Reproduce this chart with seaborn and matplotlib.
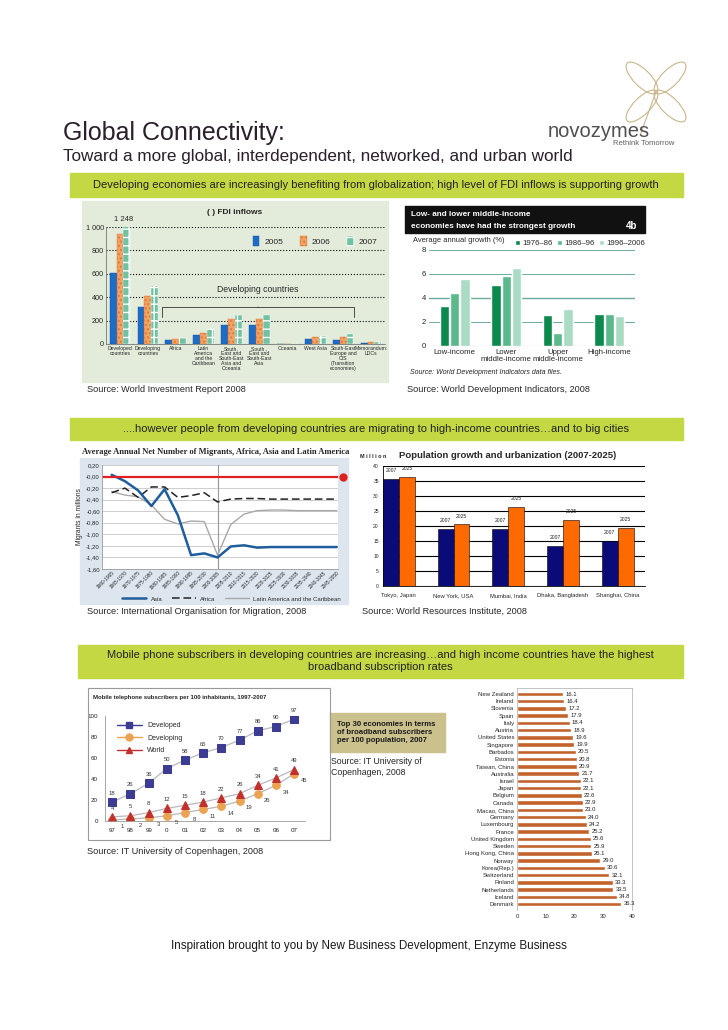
import numpy as np
import pandas as pd
import matplotlib
matplotlib.use('Agg')
import matplotlib.pyplot as plt
from matplotlib.patches import Rectangle, Ellipse, Patch
from matplotlib.lines import Line2D
import seaborn as sns

W, H = 728, 1030

# ---------------- data ----------------
fdi_regions = ['Developed\ncountries', 'Developing\ncountries', 'Africa',
               'Latin\nAmerica\nand the\nCaribbean',
               'South,\nEast and\nSouth-East\nAsia and\nOceania',
               'South ,\nEast and\nSouth-East\nAsia', 'Oceania', 'West Asia',
               'South-East\nEurope and\nCIS\n(Transition\neconomies)',
               'Memorandum:\nLDCs']
fdi_years = ['2005', '2006', '2007']
fdi_2005 = [611, 316, 30, 76, 166, 165, 1, 44, 31, 7]
fdi_2006 = [941, 413, 46, 93, 214, 210, 1, 64, 57, 13]
fdi_2007 = [1248, 500, 53, 126, 249, 249, 2, 71, 86, 13]

growth_groups = ['Low-income', 'Lower\nmiddle-income', 'Upper\nmiddle-income', 'High-income']
growth_periods = ['1976\u201386', '1986\u201396', '1996\u20132006']
growth_7686 = [3.3, 5.1, 2.6, 2.7]
growth_8696 = [4.4, 5.8, 1.1, 2.7]
growth_9606 = [5.6, 6.5, 3.1, 2.5]

mig_periods = ['1960-1965', '1965-1970', '1970-1975', '1975-1980', '1980-1985',
               '1985-1990', '1990-1995', '1995-2000', '2000-2005', '2005-2010',
               '2010-2015', '2015-2020', '2020-2025', '2025-2030', '2030-2035',
               '2035-2040', '2040-2045', '2045-2050']
mig_asia = [0.03, -0.08, -0.24, -0.51, -0.22, -0.67, -1.36, -1.33, -1.40, -1.21,
            -1.19, -1.23, -1.22, -1.22, -1.22, -1.22, -1.22, -1.22]
mig_africa = [-0.28, -0.20, -0.36, -0.18, -0.18, -0.36, -0.33, -0.28, -0.44, -0.39,
              -0.38, -0.38, -0.39, -0.39, -0.39, -0.39, -0.39, -0.39]
mig_latam = [-0.26, -0.32, -0.35, -0.49, -0.74, -0.82, -0.77, -0.78, -1.36, -0.83,
             -0.65, -0.59, -0.58, -0.58, -0.59, -0.59, -0.59, -0.59]

pop_cities = ['Tokyo, Japan', 'New York, USA', 'Mumbai, India', 'Dhaka, Bangladesh', 'Shanghai, China']
pop_2007 = [35.7, 19.0, 19.0, 13.5, 15.0]
pop_2025 = [36.4, 20.6, 26.4, 22.0, 19.4]

mob_years = ['97', '98', '99', '0', '01', '02', '03', '04', '05', '06', '07']
mob_developed = [18, 26, 36, 50, 58, 65, 70, 77, 86, 90, 97]
mob_developing = [1, 2, 3, 5, 8, 11, 14, 19, 26, 34, 45]
mob_world = [4, 5, 8, 12, 15, 18, 22, 26, 34, 41, 49]

bb_countries = ['New Zealand', 'Ireland', 'Slovenia', 'Spain', 'Italy', 'Austria',
                'United States', 'Singapore', 'Barbados', 'Estonia', 'Taiwan, China',
                'Australia', 'Israel', 'Japan', 'Belgium', 'Canada', 'Macao, China',
                'Germany', 'Luxembourg', 'France', 'United Kingdom', 'Sweden',
                'Hong Kong, China', 'Norway', 'Korea(Rep.)', 'Switzerland', 'Finland',
                'Netherlands', 'Iceland', 'Denmark']
bb_values = [16.1, 16.4, 17.2, 17.9, 18.4, 18.9, 19.6, 19.9, 20.5, 20.8, 20.9, 21.7,
             22.1, 22.1, 22.6, 22.9, 23.0, 24.0, 24.2, 25.2, 25.6, 25.9, 26.1, 29.0,
             30.6, 32.1, 33.3, 33.5, 34.8, 36.3]

# ---------------- helpers ----------------
def rect(x0, y0, x1, y1):
    """pixel box (top-left origin) -> figure fraction rect"""
    return [x0 / W, 1 - y1 / H, (x1 - x0) / W, (y1 - y0) / H]

def fx(x):
    return x / W

def fy(y):
    return 1 - y / H

def box(fig, x0, y0, x1, y1, zorder=-10, **kw):
    fig.add_artist(Rectangle((x0 / W, 1 - y1 / H), (x1 - x0) / W, (y1 - y0) / H,
                             transform=fig.transFigure, zorder=zorder, **kw))

sns.set_style('white')
plt.rcParams['font.family'] = ['Liberation Sans', 'DejaVu Sans']
plt.rcParams['axes.linewidth'] = 0.6

fig = plt.figure(figsize=(W / 100, H / 100), dpi=100)
LIME = '#c4d843'

# ---------------- header ----------------
fig.text(fx(63), fy(140), 'Global Connectivity:', fontsize=18, color='#2a1f2a', va='baseline')
fig.text(fx(63), fy(161), 'Toward a more global, interdependent, networked, and urban world',
         fontsize=12.3, color='#2a1f2a', va='baseline')
fig.text(fx(548), fy(137), 'novozymes', fontsize=14.5, color='#505050', va='baseline')
fig.text(fx(674), fy(145), 'Rethink Tomorrow', fontsize=5.5, color='#606060', ha='right', va='baseline')

# clover decoration
cax = fig.add_axes(rect(612, 48, 700, 136))
cax.set_xlim(-1, 1)
cax.set_ylim(-1, 1)
cax.set_aspect('equal')
cax.axis('off')
for ang in [45, 135, 225, 315]:
    t = np.deg2rad(ang)
    cax.add_patch(Ellipse((0.45 * np.cos(t), 0.45 * np.sin(t)), 0.95, 0.38, angle=ang,
                          fill=False, ec='#c9b68c', lw=0.8))
cax.plot([0, -0.35], [0, -0.95], color='#c9b68c', lw=0.8)

box(fig, 70, 173, 683, 197, color=LIME)
fig.text(fx(376), fy(185), 'Developing economies are increasingly benefiting from globalization; '
         'high level of FDI inflows is supporting growth', fontsize=8, ha='center', va='center',
         color='#222222')

# ---------------- FDI inflows ----------------
FDI_BG = '#e3ecdb'
box(fig, 82, 201, 388, 382, color=FDI_BG)
ax = fig.add_axes(rect(106, 227, 385, 344))
ax.set_facecolor(FDI_BG)
fdi_df = pd.DataFrame({'region': fdi_regions * 3,
                       'year': [y for y in fdi_years for _ in fdi_regions],
                       'value': fdi_2005 + fdi_2006 + fdi_2007})
fdi_cols = ['#1d6cc6', '#f2a266', '#6fc2a2']
sns.barplot(data=fdi_df, x='region', y='value', hue='year', palette=fdi_cols,
            width=0.74, saturation=1, ax=ax, legend=False)
hatches = [None, '....', '++']
edges = ['#1550a0', '#e07a30', '#ffffff']
for cont, h, ec in zip(ax.containers, hatches, edges):
    for p in cont:
        p.set_edgecolor(ec)
        p.set_linewidth(0.3)
        if h:
            p.set_hatch(h)
ax.set_ylim(0, 1000)
ax.set_yticks([0, 200, 400, 600, 800, 1000])
ax.set_yticklabels(['0', '200', '400', '600', '800', '1 000'])
ax.yaxis.grid(True, ls=':', color='black', lw=0.8)
ax.set_axisbelow(True)
ax.tick_params(axis='y', labelsize=5.2, pad=1.5, length=0)
ax.tick_params(axis='x', labelsize=3.7, pad=1.5, length=0)
for lab in ax.get_xticklabels():
    lab.set_linespacing(1.0)
ax.set_xlabel('')
ax.set_ylabel('')
for s in ['top', 'right']:
    ax.spines[s].set_visible(False)
ax.spines['left'].set_color('#777777')
ax.spines['bottom'].set_color('#777777')
top_bar = ax.containers[2][0]
ax.text(top_bar.get_x() + top_bar.get_width() / 2 - 0.1, 1035, '1 248', fontsize=5.5,
        ha='center', va='bottom', clip_on=False)
leg_h = [Patch(facecolor=c, edgecolor=e, hatch=h, lw=0.3) for c, e, h in zip(fdi_cols, edges, hatches)]
ax.legend(leg_h, fdi_years, loc='upper right', bbox_to_anchor=(1.0, 0.99), ncol=3, frameon=False,
          fontsize=6, handlelength=0.8, handleheight=1.5, handletextpad=0.6, columnspacing=2.0)
ax.text(0.545, 0.43, 'Developing countries', transform=ax.transAxes, fontsize=6.2,
        ha='center', va='bottom')
ax.annotate('', xy=(0.545, 0.29), xytext=(0.545, 0.34), xycoords='axes fraction',
            arrowprops=dict(arrowstyle='-[, widthB=8.6, lengthB=0.9', lw=0.6, color='#333333',
                            mutation_scale=8))
fig.text(fx(235), fy(213), '( ) FDI inflows', fontsize=6, fontweight='bold', ha='center', va='center')
fig.text(fx(87), fy(389), 'Source: World Investment Report 2008', fontsize=6.6, va='center')

# ---------------- growth ----------------
box(fig, 405, 206, 645, 233, color='#111111')
fig.text(fx(411), fy(214), 'Low- and lower middle-income', fontsize=5.9, fontweight='bold',
         color='white', va='center')
fig.text(fx(411), fy(226), 'economies have had the strongest growth', fontsize=5.9,
         fontweight='bold', color='white', va='center')
fig.text(fx(637), fy(226), '4b', fontsize=7, fontweight='bold', color='white', ha='right',
         va='center')
ax = fig.add_axes(rect(429, 250, 635, 346))
gdf = pd.DataFrame({'group': growth_groups * 3,
                    'period': [p for p in growth_periods for _ in growth_groups],
                    'value': growth_7686 + growth_8696 + growth_9606})
g_cols = ['#0c8a4d', '#5cb98c', '#aadcc3']
sns.barplot(data=gdf, x='group', y='value', hue='period', palette=g_cols, width=0.6,
            gap=0.08, saturation=1, ax=ax)
ax.set_ylim(0, 8)
ax.set_yticks([0, 2, 4, 6, 8])
ax.yaxis.grid(True, color='#6aaea0', lw=0.7)
ax.axhline(4, color='#1f6f62', lw=0.9, zorder=0.5)
ax.axhline(0, color='#888888', lw=0.8)
ax.set_axisbelow(True)
sns.despine(ax=ax, left=True, bottom=True)
ax.tick_params(labelsize=5.6, length=0, pad=2)
for lab in ax.get_xticklabels():
    lab.set_linespacing(1.0)
ax.set_xlabel('')
ax.set_ylabel('')
ax.legend(loc='lower right', bbox_to_anchor=(1.05, 1.03), ncol=3, frameon=False, fontsize=5.6,
          handlelength=0.7, handleheight=0.7, handletextpad=0.3, columnspacing=0.5,
          borderpad=0, borderaxespad=0)
fig.text(fx(413), fy(241), 'Average annual growth (%)', fontsize=5.4, va='center')
fig.text(fx(410), fy(373), 'Source: World Development Indicators data files.', fontsize=5,
         style='italic', va='center')
fig.text(fx(407), fy(389), 'Source: World Development Indicators, 2008', fontsize=6.6, va='center')

# ---------------- banner 2 ----------------
box(fig, 70, 418, 683, 440, color=LIME)
fig.text(fx(376), fy(429), '....however people from developing countries are migrating to '
         'high-income countries\u2026and to big cities', fontsize=8, ha='center', va='center',
         color='#222222')

# ---------------- migrants ----------------
box(fig, 80, 458, 348, 604, color='#dde6ef')
fig.text(fx(82), fy(452), 'Average Annual Net Number of Migrants, Africa, Asia and Latin America',
         fontsize=6.1, fontweight='bold', family=['Liberation Serif', 'DejaVu Serif'], va='center')
ax = fig.add_axes(rect(102, 465, 338, 569))
ax.set_facecolor('white')
xi = np.arange(len(mig_periods))
ax.axvline(mig_periods.index('2000-2005'), color='#999999', lw=0.8)
sns.lineplot(x=xi, y=mig_latam, color='#a8a8a8', lw=1.0, ax=ax, label='Latin America and the Caribbean')
sns.lineplot(x=xi, y=mig_africa, color='#222222', lw=1.1, ax=ax, label='Africa')
ax.lines[-1].set_dashes([5, 2.5])
sns.lineplot(x=xi, y=mig_asia, color='#1f5d9c', lw=1.8, ax=ax, label='Asia')
ax.axhline(0, color='#e02020', lw=1.6)
ax.plot([1.02], [0], 'o', color='#e02020', ms=5, transform=ax.get_yaxis_transform(), clip_on=False)
ax.set_xlim(-0.73, 17.1)
ax.set_ylim(-1.6, 0.2)
yt = np.round(np.arange(-1.6, 0.21, 0.2), 2)
ax.set_yticks(yt)
ax.set_yticklabels([f'{v:.2f}'.replace('.', ',') for v in yt])
ax.yaxis.grid(True, color='#bbbbbb', lw=0.5)
ax.set_xticks(xi)
ax.set_xticklabels(mig_periods, rotation=45, ha='right', rotation_mode='anchor')
ax.tick_params(axis='x', labelsize=3.4, length=0, pad=1)
ax.tick_params(axis='y', labelsize=4.3, length=0, pad=1.5)
ax.set_ylabel('Migrants in millions', fontsize=4.8, labelpad=2)
for s in ['top', 'right']:
    ax.spines[s].set_visible(False)
ax.spines['left'].set_color('#999999')
ax.spines['bottom'].set_color('#999999')
hs, ls = ax.get_legend_handles_labels()
order = [ls.index('Asia'), ls.index('Africa'), ls.index('Latin America and the Caribbean')]
ax.legend([hs[i] for i in order], [ls[i] for i in order], loc='upper center',
          bbox_to_anchor=(0.55, -0.24), ncol=3, frameon=False, fontsize=4.3, handlelength=4,
          columnspacing=1.5, borderaxespad=0)
fig.text(fx(87), fy(611), 'Source: International Organisation for Migration, 2008', fontsize=6.6,
         va='center')

# ---------------- population ----------------
ax = fig.add_axes(rect(383, 466, 645, 586))
pdf = pd.DataFrame({'city': pop_cities * 2,
                    'year': ['2007'] * len(pop_cities) + ['2025'] * len(pop_cities),
                    'value': pop_2007 + pop_2025})
sns.barplot(data=pdf, x='city', y='value', hue='year', palette=['#0a0a78', '#ff6a00'],
            width=0.58, saturation=1, edgecolor='black', linewidth=0.4, ax=ax, legend=False)
for cont, yr in zip(ax.containers, ['2007', '2025']):
    ax.bar_label(cont, labels=[yr] * len(cont), fontsize=3.6, padding=4, color='#222222')
ax.set_xlim(-0.29, 4.47)
ax.set_ylim(0, 40)
ax.set_yticks(range(0, 41, 5))
ax.yaxis.grid(True, color='black', lw=0.8)
ax.set_axisbelow(True)
ax.set_xticks(np.arange(len(pop_cities)) + 0.5, minor=True)
ax.tick_params(axis='x', which='minor', length=3, width=0.6, color='black')
ax.tick_params(axis='x', which='major', length=0, labelsize=4.2, pad=5)
ax.tick_params(axis='y', labelsize=3.6, length=2, width=0.5, pad=1)
ax.set_xlabel('')
ax.set_ylabel('')
for s in ['top', 'right']:
    ax.spines[s].set_visible(False)
ax.spines['left'].set_color('black')
ax.spines['bottom'].set_color('black')
fig.text(fx(508), fy(455), 'Population growth and urbanization (2007-2025)', fontsize=6.8,
         fontweight='bold', ha='center', va='center')
fig.text(fx(360), fy(456), 'M i l l i o n', fontsize=4, fontweight='bold', va='center')
fig.text(fx(362), fy(611), 'Source: World Resources Institute, 2008', fontsize=6.6, va='center')

# ---------------- banner 3 ----------------
box(fig, 78, 645, 683, 678, color=LIME)
fig.text(fx(380), fy(661.5), 'Mobile phone subscribers in developing countries are increasing\u2026'
         'and high income countries have the highest\nbroadband subscription rates', fontsize=8,
         ha='center', va='center', color='#222222', linespacing=1.25)

# ---------------- mobile ----------------
box(fig, 88, 688, 330, 840, zorder=5, fill=False, ec='#9a9a9a', lw=0.8)
ax = fig.add_axes(rect(105, 716, 305, 821))
mi = np.arange(len(mob_years))
series = [(mob_developed, 'Developed', 's', '#3c3c92', (0, 4.5)),
          (mob_developing, 'Developing', 'o', '#eba352', (7, -5)),
          (mob_world, 'World', '^', '#c3302c', (0, 4.5))]
for vals, name, mk, col, off in series:
    sns.lineplot(x=mi, y=vals, color='#b8b8c0', lw=0.9, marker=mk, markersize=5.5,
                 markerfacecolor=col, markeredgecolor=col, ax=ax)
    for xv, yv in zip(mi, vals):
        ax.annotate(str(yv), (xv, yv), textcoords='offset points', xytext=off, fontsize=4.2,
                    ha='center', va='bottom' if off[1] > 0 else 'center', color='#333333')
ax.set_xlim(-0.4, 10.6)
ax.set_ylim(0, 100)
ax.set_yticks(range(0, 101, 20))
ax.set_xticks(mi)
ax.set_xticklabels(mob_years)
ax.tick_params(labelsize=4.5, length=2, width=0.5, pad=3)
for s in ['top', 'right']:
    ax.spines[s].set_visible(False)
ax.spines['left'].set_color('#999999')
ax.spines['bottom'].set_color('#999999')
mob_h = [Line2D([], [], color=col, marker=mk, ms=5, lw=1.0) for _, _, mk, col, _ in series]
ax.legend(mob_h, [s[1] for s in series], loc='upper left', bbox_to_anchor=(0.03, 1.0),
          frameon=False, fontsize=5, handlelength=3.5, labelspacing=0.8)
fig.text(fx(93), fy(698), 'Mobile telephone subscribers per 100 inhabitants, 1997-2007',
         fontsize=4.3, fontweight='bold', va='center')
fig.text(fx(87), fy(851), 'Source: IT University of Copenhagen, 2008', fontsize=6.6, va='center')

# ---------------- broadband ----------------
box(fig, 330, 713, 445, 752, color='#cac18d')
fig.text(fx(337), fy(732.5), 'Top 30 economies in terms\nof broadband subscribers\nper 100 population, 2007',
         fontsize=5.6, fontweight='bold', va='center', linespacing=1.25, color='#1a1a1a')
fig.text(fx(331), fy(767), 'Source: IT University of\nCopenhagen, 2008', fontsize=6.3,
         va='center', linespacing=1.25)
ax = fig.add_axes(rect(517, 688, 632, 910))
sns.barplot(x=bb_values, y=bb_countries, orient='h', color='#c2632b', width=0.62,
            saturation=1, ax=ax)
ax.bar_label(ax.containers[0], fmt='%.1f', fontsize=4.2, padding=1.5, color='#222222')
ax.set_xlim(0, 40)
ax.set_ylim(29.83, -0.83)
ax.set_xticks(range(0, 41, 10))
ax.tick_params(axis='y', labelsize=4.3, length=0, pad=2)
ax.tick_params(axis='x', labelsize=4.3, length=0, pad=3)
ax.spines['bottom'].set_visible(False)
for s in ['top', 'right', 'left']:
    ax.spines[s].set_color('#aaaaaa')
    ax.spines[s].set_linewidth(0.5)

# ---------------- footer ----------------
fig.text(fx(369), fy(946), 'Inspiration brought to you by New Business Development, Enzyme Business',
         fontsize=8.4, ha='center', va='center', color='#1a1a1a')

fig.savefig('out.png', dpi=100)
